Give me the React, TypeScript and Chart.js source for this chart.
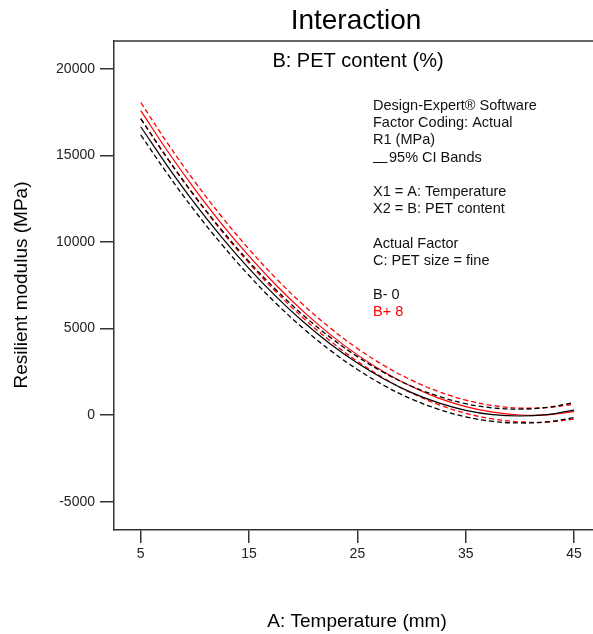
import React, { useEffect, useRef } from "react";
import { Chart, registerables } from "chart.js";

Chart.register(...registerables);

// A: Temperature values at which curves were read
const temperature = [5, 7.5, 10, 12.5, 15, 17.5, 20, 22.5, 25, 27.5, 30, 32.5, 35, 37.5, 40, 42.5, 45];

// B- 0 (black)
const b0Mean = [16650, 14350, 12210, 10250, 8460, 6840, 5390, 4110, 3010, 2070, 1300, 710, 280, 30, -50, 30, 290];
const b0Upper = [17120, 14800, 12640, 10670, 8860, 7230, 5770, 4490, 3380, 2440, 1670, 1090, 660, 420, 350, 450, 720];
const b0Lower = [16180, 13900, 11780, 9840, 8060, 6450, 5010, 3740, 2640, 1700, 930, 340, -100, -360, -450, -390, -140];

// B+ 8 (red)
const b8Mean = [17580, 15220, 13040, 11020, 9180, 7500, 5990, 4650, 3480, 2480, 1650, 980, 490, 170, 10, 20, 200];
const b8Upper = [18050, 15670, 13470, 11440, 9580, 7890, 6370, 5030, 3850, 2850, 2020, 1360, 870, 560, 410, 440, 630];
const b8Lower = [17110, 14770, 12610, 10610, 8780, 7110, 5610, 4280, 3110, 2110, 1280, 610, 110, -220, -390, -400, -230];

const xTicks = [5, 15, 25, 35, 45];
const yTicks = [-5000, 0, 5000, 10000, 15000, 20000];

const chartTitle = "Interaction";
const subTitle = "B: PET content (%)";
const xTitle = "A: Temperature (mm)";
const yTitle = "Resilient modulus (MPa)";
const infoLines = [
  "Design-Expert\u00ae Software",
  "Factor Coding: Actual",
  "R1 (MPa)",
  "95% CI Bands",
  "",
  "X1 = A: Temperature",
  "X2 = B: PET content",
  "",
  "Actual Factor",
  "C: PET size = fine",
  "",
  "B- 0",
  "B+ 8",
];

const FONT = 'Arial, "Liberation Sans", sans-serif';

export default function App() {
  const ref = useRef<HTMLCanvasElement>(null);

  useEffect(() => {
    const canvas = ref.current;
    if (!canvas) return;
    const pts = (ys: number[]) => temperature.map((x, i) => ({ x, y: ys[i] }));

    const textPlugin = {
      id: "texts",
      afterDraw(chart: any) {
        const ctx = chart.ctx as CanvasRenderingContext2D;
        const ca = chart.chartArea;
        ctx.save();
        // top frame line
        ctx.strokeStyle = "#333";
        ctx.lineWidth = 1.5;
        ctx.beginPath();
        ctx.moveTo(ca.left, ca.top);
        ctx.lineTo(chart.width, ca.top);
        ctx.stroke();

        ctx.fillStyle = "#000";
        ctx.textBaseline = "middle";
        ctx.textAlign = "center";
        ctx.font = `28px ${FONT}`;
        ctx.fillText(chartTitle, 356, 21);
        ctx.font = `20px ${FONT}`;
        ctx.fillText(subTitle, 358, 61);
        ctx.font = `19px ${FONT}`;
        ctx.fillText(xTitle, 357, 622);
        ctx.save();
        ctx.translate(22, 285);
        ctx.rotate(-Math.PI / 2);
        ctx.fillText(yTitle, 0, 0);
        ctx.restore();

        ctx.textAlign = "left";
        ctx.font = `14.5px ${FONT}`;
        const x0 = 373;
        const y0 = 106;
        const lh = 17.2;
        infoLines.forEach((line, i) => {
          if (!line) return;
          const y = y0 + i * lh;
          ctx.fillStyle = line === "B+ 8" ? "#ff0000" : "#111";
          if (line === "95% CI Bands") {
            ctx.fillText("\u2014", x0, y + 4);
            ctx.fillText(line, x0 + 16, y);
          } else {
            ctx.fillText(line, x0, y);
          }
        });
        ctx.restore();
      },
    };

    const chart = new Chart(canvas, {
      type: "line",
      data: {
        datasets: [
          { label: "B- 0 upper", data: pts(b0Upper), borderColor: "#000", borderWidth: 1.3, borderDash: [5, 3] },
          { label: "B- 0", data: pts(b0Mean), borderColor: "#000", borderWidth: 1.2 },
          { label: "B- 0 lower", data: pts(b0Lower), borderColor: "#000", borderWidth: 1.3, borderDash: [5, 3] },
          { label: "B+ 8 upper", data: pts(b8Upper), borderColor: "#ff0000", borderWidth: 1.3, borderDash: [5, 3] },
          { label: "B+ 8", data: pts(b8Mean), borderColor: "#ff0000", borderWidth: 1.2 },
          { label: "B+ 8 lower", data: pts(b8Lower), borderColor: "#ff0000", borderWidth: 1.3, borderDash: [5, 3] },
        ],
      },
      options: {
        animation: false,
        responsive: false,
        devicePixelRatio: 1,
        layout: { padding: { left: 0, top: 41, right: 19, bottom: 0 } },
        plugins: { legend: { display: false }, tooltip: { enabled: false }, title: { display: false } },
        elements: { point: { radius: 0 }, line: { tension: 0.4, fill: false } },
        scales: {
          x: {
            type: "linear",
            min: 2.53,
            max: 47.49,
            afterBuildTicks: (s: any) => {
              s.ticks = xTicks.map((v) => ({ value: v }));
            },
            afterFit: (s: any) => {
              s.height = 104;
            },
            grid: { drawOnChartArea: false, drawTicks: true, tickLength: 13, color: "#333", lineWidth: 1.5 },
            border: { display: true, color: "#333", width: 1.5 },
            ticks: {
              font: { family: FONT, size: 14 },
              color: "#222",
              padding: 3,
              maxRotation: 0,
              autoSkip: false,
              callback: (v: any) => String(v),
            },
          },
          y: {
            type: "linear",
            min: -6630,
            max: 21600,
            afterBuildTicks: (s: any) => {
              s.ticks = yTicks.map((v) => ({ value: v }));
            },
            afterFit: (s: any) => {
              s.width = 114;
            },
            grid: { drawOnChartArea: false, drawTicks: true, tickLength: 14, color: "#333", lineWidth: 1.5 },
            border: { display: true, color: "#333", width: 1.5 },
            ticks: {
              font: { family: FONT, size: 14 },
              color: "#222",
              padding: 5,
              autoSkip: false,
              callback: (v: any) => String(v),
            },
          },
        },
      },
      plugins: [textPlugin],
    } as any);

    return () => chart.destroy();
  }, []);

  return (
    <div
      style={{
        position: "fixed",
        left: 0,
        top: 0,
        width: 593,
        height: 634,
        overflow: "hidden",
        background: "#fff",
      }}
    >
      <canvas ref={ref} width={620} height={634} style={{ display: "block" }} />
    </div>
  );
}
